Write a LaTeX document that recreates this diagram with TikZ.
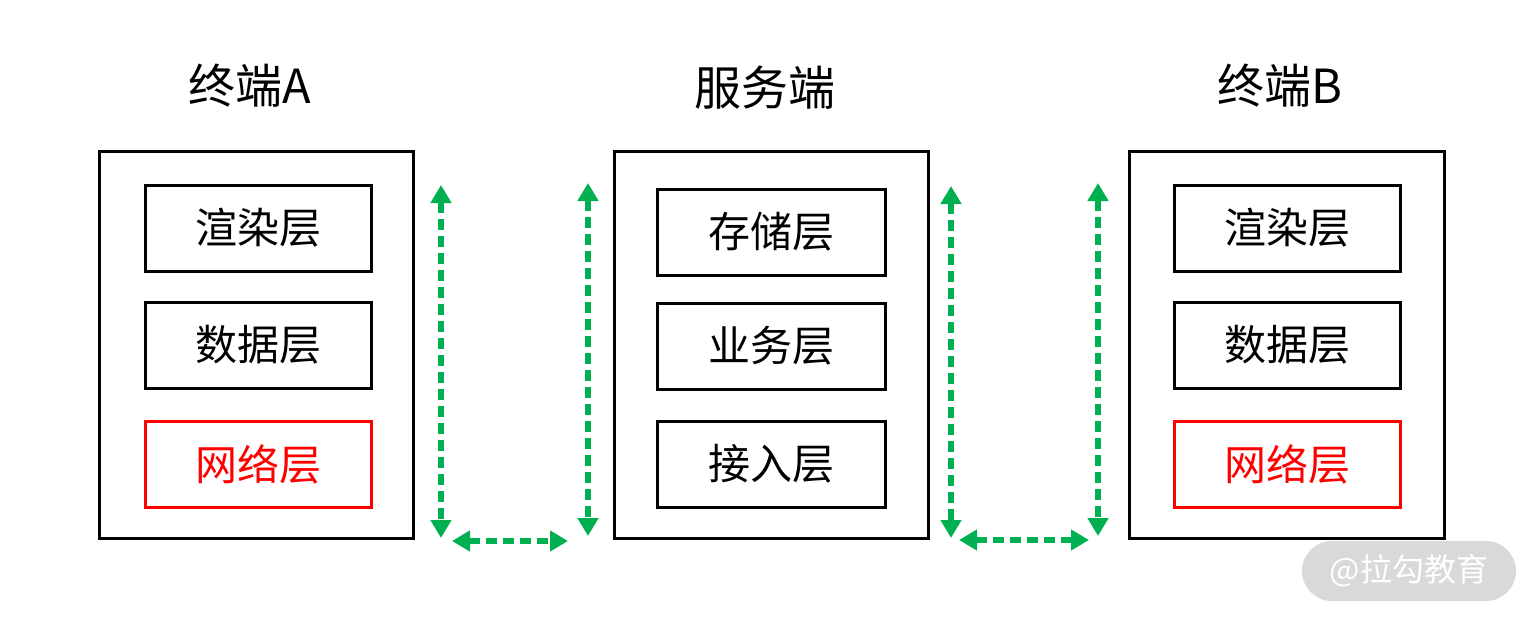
\documentclass[tikz,border=0pt]{standalone}
\usepackage{fontspec}
\setmainfont{Noto Sans CJK SC}
\usetikzlibrary{arrows.meta}
\definecolor{lgreen}{HTML}{00B050}
\definecolor{wmgray}{HTML}{D9D9D9}
\begin{document}
\begin{tikzpicture}[x=0.5pt,y=-0.5pt,
  outerbox/.style={draw=black,line width=1.5pt,minimum width=157pt,minimum height=193.5pt,inner sep=0pt},
  layerbox/.style={draw=black,line width=1.5pt,minimum width=113pt,minimum height=43pt,inner sep=0pt,font=\fontsize{21}{25}\selectfont},
  redbox/.style={layerbox,draw=red,text=red},
  title/.style={font=\fontsize{23.5}{28}\selectfont},
  link/.style={draw=lgreen,line width=2.6pt,dash pattern=on 5.5pt off 3pt,{Triangle[width=10pt,length=9pt]}-{Triangle[width=10pt,length=9pt]}}
]
\useasboundingbox (0,0) rectangle (1538,621);
% titles
\node[title] (tA) at (250,86) {终端A};
\node[title] (tS) at (765,88) {服务端};
\node[title] (tB) at (1280,86) {终端B};
% outer boxes
\node[outerbox] (A) at (256.5,344.5) {};
\node[outerbox] (S) at (771,344.5) {};
\node[outerbox,minimum width=157.5pt] (B) at (1286.5,344.5) {};
% terminal A
\node[layerbox] (A1) at (258,228) {渲染层};
\node[layerbox] (A2) at (258,345) {数据层};
\node[redbox] (A3) at (258,464) {网络层};
% server
\node[layerbox,minimum width=114pt] (S1) at (771,232) {存储层};
\node[layerbox,minimum width=114pt] (S2) at (771,346) {业务层};
\node[layerbox,minimum width=114pt] (S3) at (771,464) {接入层};
% terminal B
\node[layerbox] (B1) at (1287.5,228) {渲染层};
\node[layerbox] (B2) at (1287.5,345) {数据层};
\node[redbox] (B3) at (1287.5,464) {网络层};
% link coordinates
\coordinate (l1t) at (441,185); \coordinate (l1b) at (441,538);
\coordinate (l2t) at (588,183); \coordinate (l2b) at (588,536);
\coordinate (h1l) at (452,541); \coordinate (h1r) at (568,541);
\coordinate (r1t) at (951,186); \coordinate (r1b) at (951,538);
\coordinate (r2t) at (1098,183); \coordinate (r2b) at (1098,536);
\coordinate (h2l) at (959,540); \coordinate (h2r) at (1089,540);
\draw[link] (l1t) -- (l1b);
\draw[link] (l2t) -- (l2b);
\draw[link] (h1l) -- (h1r);
\draw[link] (r1t) -- (r1b);
\draw[link] (r2t) -- (r2b);
\draw[link] (h2l) -- (h2r);
% watermark
\node[fill=wmgray,rounded corners=15pt,minimum width=107pt,minimum height=30pt,inner sep=0pt,text=white,font=\fontsize{16}{19}\selectfont] (wm) at (1409,571) {@拉勾教育};
\end{tikzpicture}
\end{document}
